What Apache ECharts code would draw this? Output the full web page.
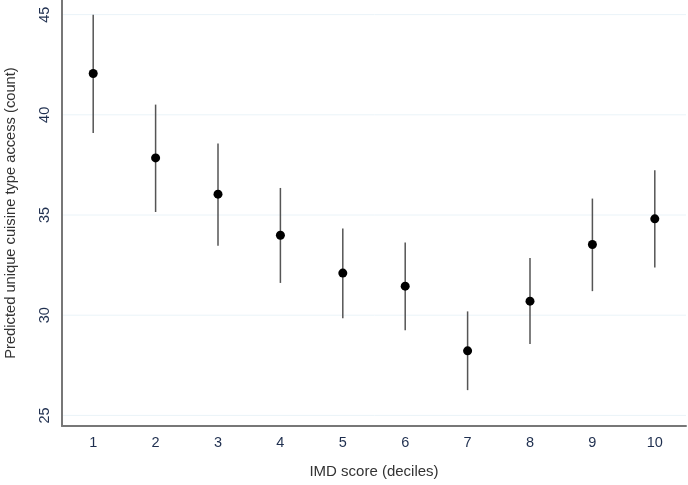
<!DOCTYPE html>
<html><head><meta charset="utf-8">
<script src="https://cdn.jsdelivr.net/npm/echarts@6/dist/echarts.min.js"></script>
<style>html,body{margin:0;padding:0;background:#fff}#c{width:688px;height:485px}</style>
</head><body><div id="c"></div>
<script>
const deciles = ['1','2','3','4','5','6','7','8','9','10'];
const predicted = [42.06,37.85,36.04,33.99,32.10,31.45,28.22,30.70,33.53,34.81];
const lower = [39.09,35.15,33.46,31.61,29.85,29.25,26.26,28.56,31.20,32.38];
const upper = [45.0,40.51,38.57,36.35,34.33,33.63,30.19,32.85,35.82,37.23];
const yTicks = [25,30,35,40,45];
const xTitle = 'IMD score (deciles)';
const yTitle = 'Predicted unique cuisine type access (count)';

const chart = echarts.init(document.getElementById('c'));
const font = 'Liberation Sans, Arial, sans-serif';
chart.setOption({
  animation:false,
  grid:{left:62,right:2,top:0,bottom:59,outerBoundsMode:'none',containLabel:false},
  xAxis:{type:'category',data:deciles,boundaryGap:true,
    name:xTitle,nameLocation:'middle',nameGap:38,
    nameTextStyle:{fontFamily:font,fontSize:15,color:'#333'},
    axisLine:{show:true,lineStyle:{color:'#777',width:2}},
    axisTick:{show:false},splitLine:{show:false},
    axisLabel:{fontFamily:font,fontSize:14.5,color:'#1f2f4f',margin:9}},
  yAxis:{type:'value',min:24.47,max:45.73,
    name:yTitle,nameLocation:'middle',nameGap:44,
    nameTextStyle:{fontFamily:font,fontSize:14.7,color:'#333'},
    axisLine:{show:true,lineStyle:{color:'#777',width:2}},
    axisTick:{show:false},
    splitLine:{show:false},
    axisLabel:{show:false}},
  series:[
    {type:'custom',
     data:deciles.map((d,i)=>[i,lower[i],upper[i]]),
     renderItem:(params,api)=>{
       const a=api.coord([api.value(0),api.value(1)]);
       const b=api.coord([api.value(0),api.value(2)]);
       return {type:'line',shape:{x1:a[0],y1:a[1],x2:b[0],y2:b[1]},style:{stroke:'#555',lineWidth:1.5}};
     },z:2},
    {type:'scatter',data:deciles.map((d,i)=>[i,predicted[i]]),symbolSize:9,
     itemStyle:{color:'#000',opacity:1},z:3},
    {type:'custom',data:yTicks.map(v=>[0,v]),
     renderItem:(params,api)=>{
       const v=api.value(1);
       const p=api.coord([0,v]);
       const cs=params.coordSys;
       return {type:'group',children:[
         {type:'line',shape:{x1:cs.x+1,y1:p[1],x2:cs.x+cs.width,y2:p[1]},style:{stroke:'#eaf3f8',lineWidth:1},z2:0},
         {type:'text',x:44.5,y:p[1],rotation:Math.PI/2,
          style:{text:String(v),fontFamily:font,fontSize:14.5,fill:'#1f2f4f',align:'center',verticalAlign:'middle'}}
       ]};
     },z:1,silent:true}
  ]
});
</script></body></html>
